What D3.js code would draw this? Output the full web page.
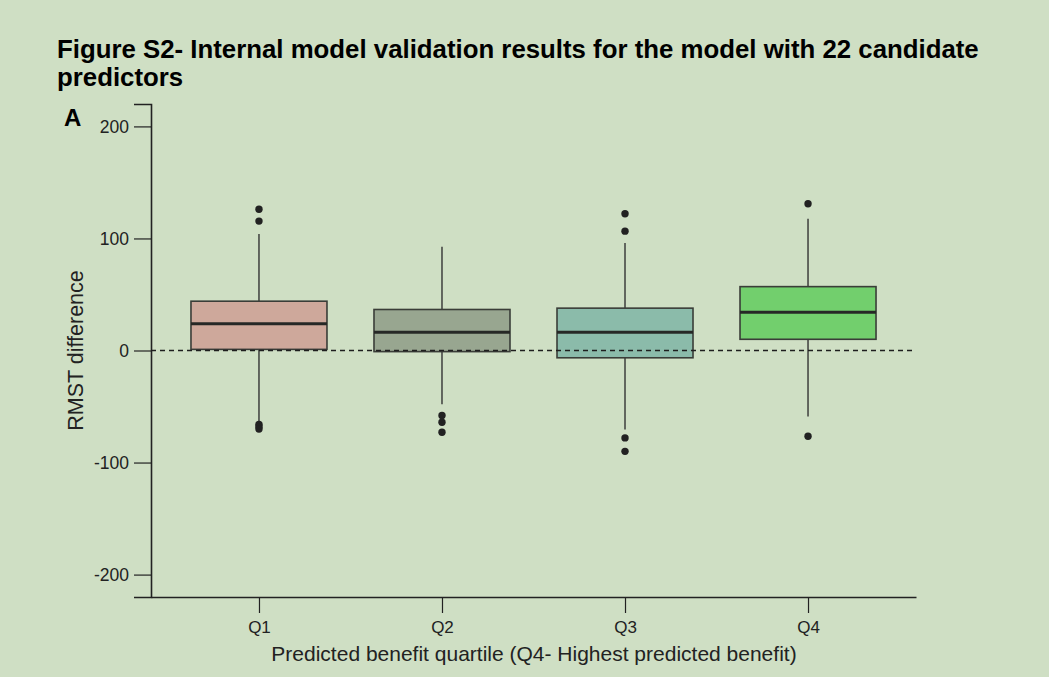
<!DOCTYPE html>
<html>
<head>
<meta charset="utf-8">
<script src="https://cdn.jsdelivr.net/npm/d3@7"></script>
<style>
  html, body { margin: 0; padding: 0; background: #cfdfc4; }
  svg { display: block; font-family: "Liberation Sans", Arial, sans-serif; }
</style>
</head>
<body>
<div id="chart"></div>
<script>
// Box summaries (RMST difference)
const quartiles = ["Q1", "Q2", "Q3", "Q4"];
const lowerWhisker = [-63, -48, -70.5, -59];
const q1Values = [1, -1, -6.5, 10];
const medians = [23.8, 16.3, 16.3, 34.2];
const q3Values = [44, 36.6, 37.8, 57];
const upperWhisker = [104, 92.6, 96, 117.6];
const outliers = [
  [126, 115.5, -66, -68, -70],
  [-58, -64, -73],
  [122, 106.5, -78, -90],
  [131, -76.5]
];
const boxColors = ["#cea89b", "#98a690", "#8bbbaa", "#72cf6d"];
const yTicks = [-200, -100, 0, 100, 200];

const W = 1049, H = 677;
const INK = "#222";
const FONT = "Liberation Sans, Arial, sans-serif";

const svg = d3.select("#chart").append("svg")
  .attr("width", W).attr("height", H);

svg.append("rect").attr("width", W).attr("height", H).attr("fill", "#cfdfc4");

// Title
const title = svg.append("text")
  .style("font-size", "25.8px").style("font-weight", "700").style("fill", "#000");
title.append("tspan").attr("x", 57).attr("y", 58)
  .text("Figure S2- Internal model validation results for the model with 22 candidate");
title.append("tspan").attr("x", 57).attr("y", 86)
  .text("predictors");

svg.append("text")
  .attr("x", 64).attr("y", 126)
  .style("font-size", "24px").style("font-weight", "700").style("fill", "#000")
  .text("A");

// Scales
const x = d3.scalePoint().domain(quartiles).range([151, 916]).padding(0.59);
const y = d3.scaleLinear().domain([-220, 220]).range([597, 104]);

// Axes
const yAxis = svg.append("g")
  .attr("transform", "translate(151,0)")
  .call(d3.axisLeft(y).tickValues(yTicks).tickFormat(d => String(d))
    .tickSize(17).tickPadding(5));
yAxis.select(".domain").attr("stroke", INK).attr("stroke-width", 1.6);
yAxis.selectAll(".tick line").attr("stroke", INK).attr("stroke-width", 1.2);
yAxis.selectAll(".tick text")
  .style("font-size", "17.5px").style("fill", "#222").style("font-family", FONT);

const xAxis = svg.append("g")
  .attr("transform", "translate(0,597)")
  .call(d3.axisBottom(x).tickSize(16).tickPadding(8).tickSizeOuter(0));
xAxis.select(".domain").attr("stroke", INK).attr("stroke-width", 1.6);
xAxis.selectAll(".tick line").attr("stroke", INK).attr("stroke-width", 1.2);
xAxis.selectAll(".tick text")
  .style("font-size", "17px").style("fill", "#222").style("font-family", FONT);

// Axis titles
svg.append("text")
  .attr("x", 534).attr("y", 661)
  .attr("text-anchor", "middle")
  .style("font-size", "21px").style("fill", "#222")
  .text("Predicted benefit quartile (Q4- Highest predicted benefit)");

svg.append("text")
  .attr("transform", `translate(83,${y(0)}) rotate(-90)`)
  .attr("text-anchor", "middle")
  .style("font-size", "21.5px").style("fill", "#222")
  .text("RMST difference");

// Boxes
const halfW = 68;
const boxes = svg.append("g");
quartiles.forEach((q, i) => {
  const cx = x(q);
  const g = boxes.append("g");
  // whiskers
  g.append("line")
    .attr("x1", cx).attr("x2", cx)
    .attr("y1", y(upperWhisker[i])).attr("y2", y(q3Values[i]))
    .attr("stroke", "#333").attr("stroke-width", 1.4);
  g.append("line")
    .attr("x1", cx).attr("x2", cx)
    .attr("y1", y(q1Values[i])).attr("y2", y(lowerWhisker[i]))
    .attr("stroke", "#333").attr("stroke-width", 1.4);
  // box
  g.append("rect")
    .attr("x", cx - halfW).attr("width", halfW * 2)
    .attr("y", y(q3Values[i])).attr("height", y(q1Values[i]) - y(q3Values[i]))
    .attr("fill", boxColors[i])
    .attr("stroke", "#3a3d38").attr("stroke-width", 1.6);
  // median
  g.append("line")
    .attr("x1", cx - halfW).attr("x2", cx + halfW)
    .attr("y1", y(medians[i])).attr("y2", y(medians[i]))
    .attr("stroke", "#262826").attr("stroke-width", 3);
  // outliers
  g.selectAll("circle").data(outliers[i]).join("circle")
    .attr("cx", cx).attr("cy", d => y(d))
    .attr("r", 3.7).attr("fill", "#222");
});

// Reference line at zero
svg.append("line")
  .attr("x1", 151).attr("x2", 914)
  .attr("y1", y(0)).attr("y2", y(0))
  .attr("stroke", "#1e1e1e").attr("stroke-width", 1.5)
  .attr("stroke-dasharray", "5,4");
</script>
</body>
</html>
